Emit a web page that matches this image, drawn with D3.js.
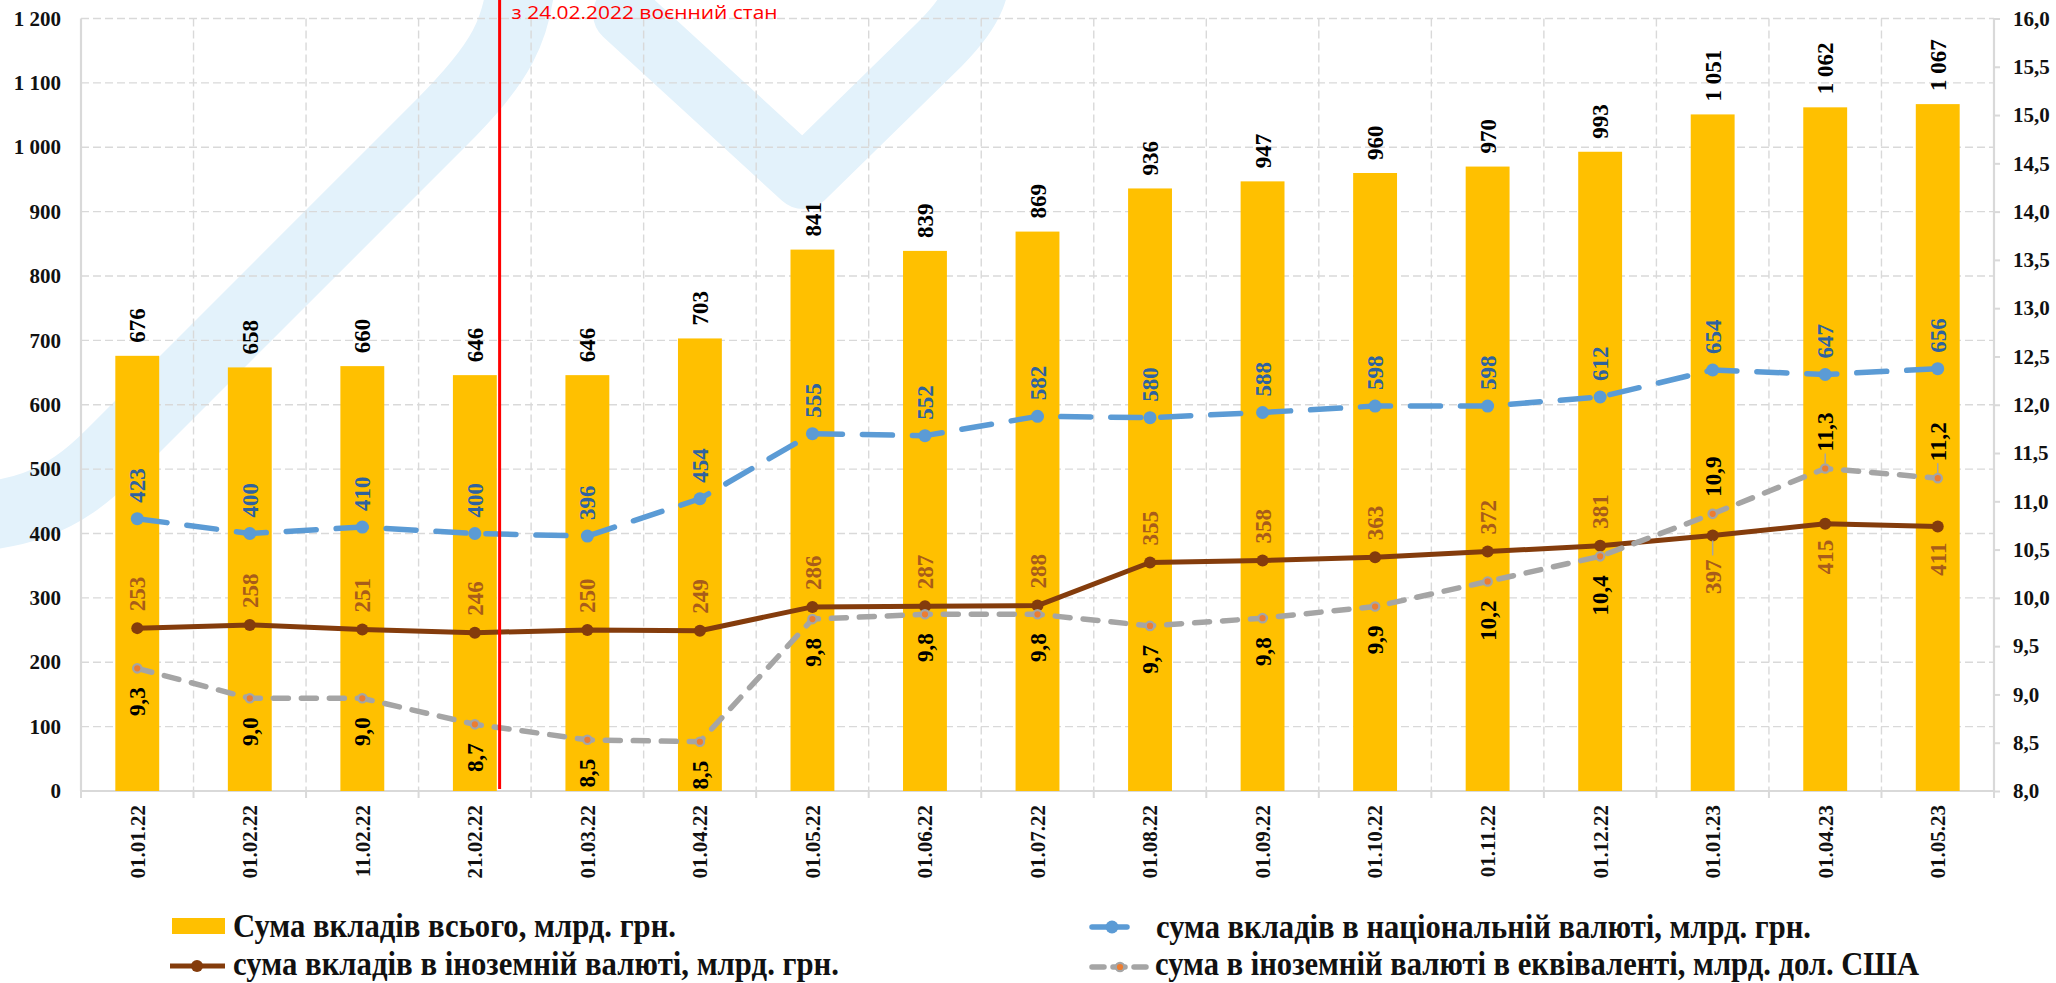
<!DOCTYPE html>
<html>
<head>
<meta charset="utf-8">
<script src="https://cdn.jsdelivr.net/npm/d3@7"></script>
<style>
  body { margin: 0; background: #fff; }
  svg { display: block; }
</style>
</head>
<body>
<svg id="chart" width="2056" height="983"></svg>
<script>
'use strict';

// dates of the report
var dates = ['01.01.22','01.02.22','11.02.22','21.02.22','01.03.22','01.04.22','01.05.22','01.06.22',
  '01.07.22','01.08.22','01.09.22','01.10.22','01.11.22','01.12.22','01.01.23','01.04.23','01.05.23'];

// bln UAH
var totalDeposits    = [676, 658, 660, 646, 646, 703, 841, 839, 869, 936, 947, 960, 970, 993, 1051, 1062, 1067];
var nationalDeposits = [423, 400, 410, 400, 396, 454, 555, 552, 582, 580, 588, 598, 598, 612, 654, 647, 656];
var foreignDeposits  = [253, 258, 251, 246, 250, 249, 286, 287, 288, 355, 358, 363, 372, 381, 397, 415, 411];

// bln USD (right axis)
var foreignUsd = [9.27, 8.96, 8.96, 8.69, 8.53, 8.51, 9.78, 9.83, 9.83, 9.71, 9.79, 9.91, 10.17, 10.43, 10.87, 11.34, 11.24];

var leftTicks  = d3.range(0, 1201, 100);
var rightTicks = d3.range(8, 16.01, 0.5);

// martial law since 24.02 -> between 21.02 and 01.03
var warPos   = 3.22;
var warLabel = 'з 24.02.2022 воєнний стан';

var legendNames = [
  'Сума вкладів всього, млрд. грн.',
  'сума вкладів в іноземній валюті, млрд. грн.',
  'сума вкладів в національній валюті, млрд. грн.',
  'сума в іноземній валюті в еквіваленті, млрд. дол. США'
];

////////////////////////////////////////////////////////////////////////////////////

var C = {
  bar: '#ffc000', blue: '#5b9bd5', brown: '#843c0c', gray: '#a5a5a5', orange: '#ed7d31',
  grid: '#d9d9d9', blueText: '#2e62a0', brownText: '#a85c1a', red: '#ff0000', wm: '#e3f2fb'
};
var SERIF = '"Liberation Serif", Tinos, "Times New Roman", "DejaVu Serif", serif';

var W = 2056, H = 983;
var m = { left: 81, right: 62, top: 18.5, bottom: 192 };
var x0 = m.left, x1 = W - m.right, y0 = H - m.bottom, y1 = m.top;

var fmtInt = function (v) { return d3.format(',')(v).replace(/,/g, '\u00a0'); };
var fmtDec = function (v) { return d3.format('.1f')(v).replace('.', ','); };

var svg = d3.select('#chart');

var x = d3.scaleBand().domain(dates).range([x0, x1]).paddingInner(0.61).paddingOuter(0.305);
var step = x.step();
var cx = function (d, i) { return x(dates[i]) + x.bandwidth() / 2; };
var yL = d3.scaleLinear().domain([0, 1200]).range([y0, y1]);
var yR = d3.scaleLinear().domain([8, 16]).range([y0, y1]);

////////////////////////////////////////////////////////////////////////////////////
// watermark (background logo)

var wm = svg.append('g').attr('fill', 'none').attr('stroke', C.wm)
  .attr('stroke-linecap', 'round').attr('stroke-linejoin', 'round');
wm.append('path').attr('stroke-width', 68)
  .attr('d', 'M -80,520 C 20,520 62,502 110,454 L 440,124 C 498,66 522,30 522,-40');
wm.append('path').attr('stroke-width', 62)
  .attr('d', 'M 624,14 L 803,178 L 940,44 C 974,10 982,-10 982,-60');

////////////////////////////////////////////////////////////////////////////////////
// grid

var grid = svg.append('g').attr('stroke', C.grid).attr('stroke-width', 1.4).attr('stroke-dasharray', '8,4');
grid.selectAll('.h').data(leftTicks.filter(function (t) { return t > 0; })).enter().append('line')
  .attr('x1', x0).attr('x2', x1).attr('y1', yL).attr('y2', yL);
grid.selectAll('.v').data(d3.range(1, dates.length)).enter().append('line')
  .attr('x1', function (k) { return x0 + k * step; }).attr('x2', function (k) { return x0 + k * step; })
  .attr('y1', y1).attr('y2', y0);

// axes
var leftAxis = svg.append('g').attr('transform', 'translate(' + x0 + ',0)')
  .call(d3.axisLeft(yL).tickValues(leftTicks).tickSize(0).tickPadding(20).tickFormat(fmtInt));
var rightAxis = svg.append('g').attr('transform', 'translate(' + x1 + ',0)')
  .call(d3.axisRight(yR).tickValues(rightTicks).tickSize(6).tickPadding(13).tickFormat(fmtDec));
var bottomAxis = svg.append('g').attr('transform', 'translate(0,' + y0 + ')')
  .call(d3.axisBottom(x).tickSize(0).tickPadding(14));

[leftAxis, rightAxis, bottomAxis].forEach(function (a) {
  a.attr('font-family', null).attr('font-size', null);
  a.select('.domain').attr('stroke', C.grid).attr('stroke-width', 2.2);
  a.selectAll('.tick line').attr('stroke', C.grid).attr('stroke-width', 2);
  a.selectAll('text').attr('font-size', 21).attr('fill', '#111');
});
leftAxis.select('.domain').attr('d', 'M0,' + y0 + 'V' + y1);
rightAxis.select('.domain').attr('d', 'M0,' + y0 + 'V' + y1);
bottomAxis.select('.domain').attr('d', 'M' + x0 + ',0H' + x1);
bottomAxis.selectAll('.tick text')
  .attr('transform', 'rotate(-90)').attr('text-anchor', 'end')
  .attr('x', -14).attr('y', 0).attr('dy', '0.35em');

// category separator ticks below the axis
svg.append('g').attr('stroke', C.grid).attr('stroke-width', 2)
  .selectAll('line').data(d3.range(0, dates.length + 1)).enter().append('line')
  .attr('x1', function (k) { return x0 + k * step; }).attr('x2', function (k) { return x0 + k * step; })
  .attr('y1', y0).attr('y2', y0 + 7);

////////////////////////////////////////////////////////////////////////////////////
// bars

svg.append('g').selectAll('rect').data(totalDeposits).enter().append('rect')
  .attr('x', function (d, i) { return x(dates[i]); })
  .attr('width', x.bandwidth())
  .attr('y', function (d) { return yL(d); })
  .attr('height', function (d) { return y0 - yL(d); })
  .attr('fill', C.bar);

// lines
function drawLine(values, scale, color, width, dash) {
  var line = d3.line().x(cx).y(function (d) { return scale(d); });
  return svg.append('path').datum(values).attr('d', line)
    .attr('fill', 'none').attr('stroke', color).attr('stroke-width', width)
    .attr('stroke-dasharray', dash).attr('stroke-linecap', 'round').attr('stroke-linejoin', 'round');
}

drawLine(nationalDeposits, yL, C.blue, 5.5, '30,20');
svg.append('g').selectAll('circle').data(nationalDeposits).enter().append('circle')
  .attr('cx', cx).attr('cy', function (d) { return yL(d); }).attr('r', 6.5).attr('fill', C.blue);

drawLine(foreignDeposits, yL, C.brown, 5, null);
svg.append('g').selectAll('circle').data(foreignDeposits).enter().append('circle')
  .attr('cx', cx).attr('cy', function (d) { return yL(d); }).attr('r', 6).attr('fill', C.brown);

drawLine(foreignUsd, yR, C.gray, 5.5, '15,13');
svg.append('g').selectAll('circle').data(foreignUsd).enter().append('circle')
  .attr('cx', cx).attr('cy', function (d) { return yR(d); }).attr('r', 4.2)
  .attr('fill', C.orange).attr('stroke', C.gray).attr('stroke-width', 2.2);

// martial law marker
var warX = x0 + (warPos + 0.5) * step;
svg.append('line').attr('x1', warX).attr('x2', warX).attr('y1', 0).attr('y2', y0 - 2)
  .attr('stroke', C.red).attr('stroke-width', 3);
svg.append('text').attr('class', 'sans').attr('x', warX + 12).attr('y', 19).text(warLabel)
  .attr('font-size', 18).attr('fill', C.red)
  .attr('textLength', 266).attr('lengthAdjust', 'spacingAndGlyphs');

////////////////////////////////////////////////////////////////////////////////////
// data labels (rotated)

function labels(values, scale, fmt, color, offsetFn) {
  svg.append('g').selectAll('text').data(values).enter().append('text')
    .attr('transform', function (d, i) {
      var off = offsetFn(d, i);
      return 'translate(' + cx(d, i) + ',' + (scale(d) + off) + ') rotate(-90)';
    })
    .attr('text-anchor', function (d, i) { return offsetFn(d, i) < 0 ? 'start' : 'end'; })
    .attr('dy', '0.35em').attr('font-size', 23).attr('fill', color)
    .text(fmt);
}

labels(totalDeposits, yL, fmtInt, '#000', function () { return -13; });
labels(nationalDeposits, yL, fmtInt, C.blueText, function () { return -16; });
labels(foreignDeposits, yL, fmtInt, C.brownText, function (d, i) { return i >= 14 ? (i === 14 ? 24 : 16) : -17; });
labels(foreignUsd, yR, fmtDec, '#000', function (d, i) { return i >= 14 ? -17 : 19; });

// leader lines for the crowded labels at the end
var leaders = svg.append('g').attr('stroke', C.gray).attr('stroke-width', 1.5);
leaders.append('line').attr('x1', cx(0, 14)).attr('x2', cx(0, 14))
  .attr('y1', yL(foreignDeposits[14]) + 5).attr('y2', yL(foreignDeposits[14]) + 20);
[15, 16].forEach(function (i) {
  leaders.append('line').attr('x1', cx(0, i)).attr('x2', cx(0, i))
    .attr('y1', yR(foreignUsd[i]) - 15).attr('y2', yR(foreignUsd[i]) - 5);
});

////////////////////////////////////////////////////////////////////////////////////
// legend

var lg = svg.append('g');
var legendText = function (name, tx, ty, len) {
  lg.append('text').attr('x', tx).attr('y', ty).text(name)
    .attr('font-size', 33).attr('fill', '#111')
    .attr('textLength', len).attr('lengthAdjust', 'spacingAndGlyphs');
};

lg.append('rect').attr('x', 172).attr('y', 918).attr('width', 53).attr('height', 16).attr('fill', C.bar);
legendText(legendNames[0], 233, 937, 443);

lg.append('line').attr('x1', 170).attr('x2', 225).attr('y1', 966).attr('y2', 966)
  .attr('stroke', C.brown).attr('stroke-width', 5);
lg.append('circle').attr('cx', 197).attr('cy', 966).attr('r', 6).attr('fill', C.brown);
legendText(legendNames[1], 233, 975, 606);

lg.append('line').attr('x1', 1092).attr('x2', 1127).attr('y1', 927).attr('y2', 927)
  .attr('stroke', C.blue).attr('stroke-width', 5.5).attr('stroke-linecap', 'round');
lg.append('circle').attr('cx', 1112).attr('cy', 927).attr('r', 6.5).attr('fill', C.blue);
legendText(legendNames[2], 1156, 938, 655);

lg.append('line').attr('x1', 1092).attr('x2', 1148).attr('y1', 967).attr('y2', 967)
  .attr('stroke', C.gray).attr('stroke-width', 5.5).attr('stroke-dasharray', '12,9')
  .attr('stroke-linecap', 'round');
lg.append('circle').attr('cx', 1120).attr('cy', 967).attr('r', 4.2)
  .attr('fill', C.orange).attr('stroke', C.gray).attr('stroke-width', 2.2);
legendText(legendNames[3], 1155, 975, 764);

// fonts: serif bold everywhere, except the red note
svg.selectAll('text').each(function () {
  var t = d3.select(this);
  if (t.classed('sans')) {
    t.style('font-family', '"Open Sans", "Liberation Sans", sans-serif').style('font-weight', 'normal');
  } else {
    t.style('font-family', SERIF).style('font-weight', 'bold');
  }
});
</script>
</body>
</html>
